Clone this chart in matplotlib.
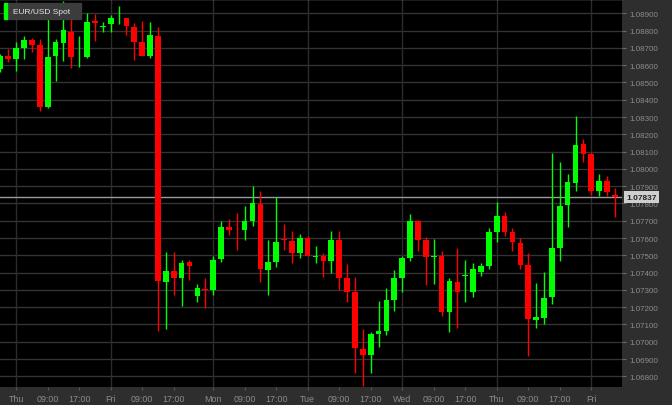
import matplotlib.pyplot as plt
import matplotlib as mp

mp.rcParams['font.family'] = ['Liberation Sans', 'DejaVu Sans']

# 2h EUR/USD candles
opens = [1.08578, 1.08655, 1.08636, 1.08701, 1.08746, 1.08717, 1.08360, 1.08651, 1.08726, 1.08790,
         1.08645, 1.08645, 1.08855, 1.08820, 1.08838, 1.08871, 1.08873, 1.08819, 1.08732, 1.08651,
         1.08770, 1.07344, 1.07411, 1.07367, 1.07460, 1.07266, 1.07303, 1.07299, 1.07479, 1.07662,
         1.07654, 1.07648, 1.07700, 1.07797, 1.07415, 1.07463, 1.07594, 1.07581, 1.07513, 1.07600,
         1.07492, 1.07494, 1.07465, 1.07589, 1.07367, 1.07289, 1.06958, 1.06925, 1.07045, 1.07060,
         1.07243, 1.07367, 1.07483, 1.07700, 1.07589, 1.07492, 1.07498, 1.07170, 1.07344, 1.07380,
         1.07286, 1.07403, 1.07436, 1.07637, 1.07726, 1.07633, 1.07571, 1.07444, 1.07128, 1.07137,
         1.07257, 1.07542, 1.07791, 1.07918, 1.08144, 1.08086, 1.07874, 1.07932, 1.07851]
highs = [1.08665, 1.08693, 1.08736, 1.08770, 1.08755, 1.08751, 1.08867, 1.08751, 1.08973, 1.08877,
         1.08767, 1.08900, 1.08896, 1.08851, 1.08890, 1.08944, 1.08873, 1.08844, 1.08857, 1.08848,
         1.08819, 1.07521, 1.07521, 1.07473, 1.07473, 1.07334, 1.07367, 1.07498, 1.07697, 1.07710,
         1.07745, 1.07784, 1.07903, 1.07870, 1.07589, 1.07836, 1.07681, 1.07639, 1.07623, 1.07610,
         1.07552, 1.07513, 1.07639, 1.07639, 1.07450, 1.07376, 1.07074, 1.07058, 1.07237, 1.07311,
         1.07415, 1.07494, 1.07739, 1.07704, 1.07604, 1.07594, 1.07527, 1.07369, 1.07542, 1.07473,
         1.07454, 1.07454, 1.07658, 1.07807, 1.07749, 1.07656, 1.07600, 1.07512, 1.07338, 1.07402,
         1.08090, 1.08038, 1.07970, 1.08304, 1.08173, 1.08096, 1.07970, 1.07961, 1.07889]
lows = [1.08560, 1.08617, 1.08568, 1.08636, 1.08674, 1.08337, 1.08355, 1.08507, 1.08622, 1.08582,
        1.08591, 1.08640, 1.08741, 1.08790, 1.08790, 1.08838, 1.08776, 1.08632, 1.08655, 1.08640,
        1.07064, 1.07074, 1.07272, 1.07208, 1.07357, 1.07228, 1.07195, 1.07272, 1.07460, 1.07617,
        1.07532, 1.07589, 1.07671, 1.07347, 1.07270, 1.07434, 1.07532, 1.07456, 1.07484, 1.07498,
        1.07456, 1.07376, 1.07398, 1.07301, 1.07228, 1.06819, 1.06746, 1.06817, 1.06968, 1.07039,
        1.07176, 1.07289, 1.07469, 1.07523, 1.07328, 1.07334, 1.07147, 1.07058, 1.07078, 1.07228,
        1.07257, 1.07379, 1.07421, 1.07575, 1.07613, 1.07523, 1.07421, 1.06916, 1.07080, 1.07103,
        1.07218, 1.07469, 1.07662, 1.07874, 1.08042, 1.07849, 1.07845, 1.07841, 1.07720]
closes = [1.08655, 1.08636, 1.08699, 1.08747, 1.08717, 1.08360, 1.08649, 1.08732, 1.08803, 1.08645,
          1.08649, 1.08851, 1.08846, 1.08825, 1.08871, 1.08874, 1.08825, 1.08732, 1.08655, 1.08774,
          1.07353, 1.07411, 1.07367, 1.07456, 1.07440, 1.07311, 1.07299, 1.07475, 1.07662, 1.07648,
          1.07650, 1.07697, 1.07801, 1.07421, 1.07460, 1.07577, 1.07590, 1.07513, 1.07600, 1.07498,
          1.07496, 1.07465, 1.07589, 1.07369, 1.07289, 1.06962, 1.06925, 1.07045, 1.07062, 1.07243,
          1.07367, 1.07483, 1.07700, 1.07589, 1.07492, 1.07496, 1.07170, 1.07351, 1.07286, 1.07385,
          1.07421, 1.07440, 1.07637, 1.07726, 1.07633, 1.07575, 1.07446, 1.07132, 1.07141, 1.07253,
          1.07542, 1.07787, 1.07922, 1.08138, 1.08086, 1.07874, 1.07932, 1.07868, 1.07837]

last_price = 1.07837
price_ticks = [1.068 + 0.001 * k for k in range(22)]

day_pos = [2, 14, 27, 39, 51, 63, 75]
day_labels = ['Thu', 'Fri', 'Mon', 'Tue', 'Wed', 'Thu', 'Fri']
hour_pos = [6, 10, 18, 22, 31, 35, 43, 47, 55, 59, 67, 71]
hour_labels = ['09:00', '17:00'] * 6

GREEN = '#00ff00'
RED = '#ff0000'
PANEL = '#2e2e2e'
TXT = '#8c8c8c'

fig = plt.figure(figsize=(6.72, 4.06), dpi=100, facecolor=PANEL)
ax = fig.add_axes([0, 18 / 406, 622 / 672, 388 / 406])
ax.set_facecolor('black')

x = list(range(len(opens)))
cols = [GREEN if c >= o else RED for o, c in zip(opens, closes)]
bottoms = [min(o, c) for o, c in zip(opens, closes)]
heights = [max(abs(c - o), 0.00002) for o, c in zip(opens, closes)]

ax.vlines(x, lows, highs, colors=cols, linewidth=1, zorder=3)
ax.bar(x, heights, bottom=bottoms, width=0.72, color=cols, linewidth=0, zorder=4)

# grid
for p in price_ticks:
    ax.axhline(p, color='#333333', linewidth=1, zorder=1)
for d in day_pos:
    ax.axvline(d, color='#2c2c2c', linewidth=1, zorder=1)
ax.axhline(last_price, color='#9a9a9a', linewidth=1, zorder=2)

ax.set_xlim(-0.05, 78.9)
ax.set_ylim(1.06738, 1.08983)

for s in ['left', 'right', 'bottom']:
    ax.spines[s].set_visible(False)
ax.spines['top'].set_color('#8a8a8a')
ax.spines['top'].set_linewidth(1)

ax.yaxis.tick_right()
ax.set_yticks(price_ticks)
ax.set_yticklabels(['{:.5f}'.format(p) for p in price_ticks])
ax.tick_params(axis='y', colors='#6a6a6a', labelcolor=TXT, labelsize=5.8, length=3, pad=2)

ax.set_xticks(day_pos + hour_pos)
ax.set_xticklabels(day_labels + hour_labels)
ax.tick_params(axis='x', colors='#555555', labelcolor=TXT, labelsize=6.4, length=2, pad=3)

# last price tag
ax.annotate('{:.5f}'.format(last_price), xy=(1.0, last_price), xycoords=('axes fraction', 'data'),
            xytext=(3, 0), textcoords='offset points', va='center', ha='left',
            fontsize=6, fontweight='bold', color='#222222',
            bbox=dict(boxstyle='square,pad=0.25', fc='#cfcfcf', ec='none'),
            annotation_clip=False, zorder=10)

# instrument label (pixel positions inside the 622x388 plot area)
W, H = 622.0, 388.0
ax.add_patch(plt.Rectangle((6.5 / W, 1 - 20 / H), 74 / W, 16 / H, transform=ax.transAxes,
                           color='#3c3c3c', zorder=10, clip_on=False))
ax.add_patch(plt.Rectangle((4 / W, 1 - 20 / H), 2.5 / W, 16 / H, transform=ax.transAxes,
                           color=GREEN, zorder=11, clip_on=False))
ax.text(13 / W, 1 - 12 / H, 'EUR/USD Spot', transform=ax.transAxes, ha='left', va='center',
        fontsize=6, color='#e6e6e6', zorder=12)

fig.savefig('out.png', dpi=100, facecolor=PANEL)
